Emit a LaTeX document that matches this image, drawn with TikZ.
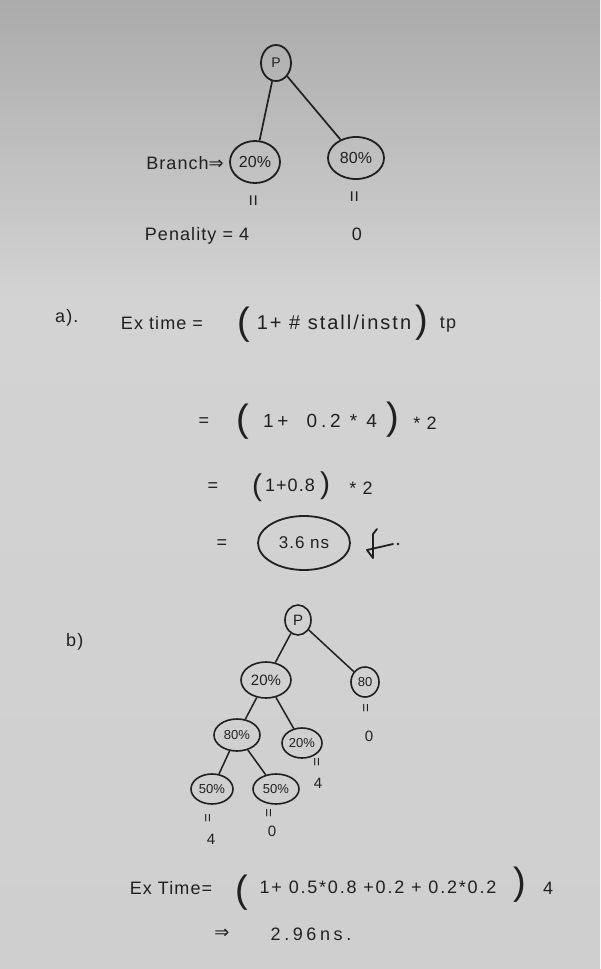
\documentclass[tikz,border=0pt]{standalone}
\usepackage{fontspec}
\setmainfont{Liberation Sans}
\newfontfamily\symbfont{DejaVu Sans}
\usetikzlibrary{shapes.geometric}
\definecolor{ink}{HTML}{202020}
\definecolor{papertop}{HTML}{ABABAB}
\definecolor{papermid}{HTML}{D3D3D3}
\definecolor{paperbot}{HTML}{CFCFCF}
\newcommand{\hfs}[2]{\fontsize{#1}{#1}\selectfont\addfontfeature{LetterSpace=#2}}
\tikzset{
  txt/.style={text=ink, inner sep=0pt, font=\hfs{18}{6}},
  small/.style={text=ink, inner sep=0pt, font=\hfs{15}{0}},
  bigparen/.style={text=ink, inner sep=0pt, font=\fontsize{38}{40}\selectfont},
  midparen/.style={text=ink, inner sep=0pt, font=\fontsize{30}{32}\selectfont},
  ell/.style={ellipse, draw=ink, line width=1.8pt, text=ink, inner sep=0pt, font=\hfs{16}{0}},
  ells/.style={ellipse, draw=ink, line width=1.6pt, text=ink, inner sep=0pt, font=\hfs{13}{0}},
  eqv/.style={text=ink, inner sep=0pt, rotate=90, font=\fontsize{20}{22}\selectfont},
  eqvs/.style={text=ink, inner sep=0pt, rotate=90, font=\fontsize{15}{17}\selectfont},
  edge/.style={draw=ink, line width=1.7pt},
}
\begin{document}
\begin{tikzpicture}[x=1pt,y=-1pt]
\useasboundingbox (0,0) rectangle (600,969);
\shade[top color=papertop, bottom color=papermid] (0,0) rectangle (600,300);
\shade[top color=papermid, bottom color=paperbot] (0,300) rectangle (600,969);

% ---------- top tree ----------
\node[ell, minimum width=30, minimum height=36, font=\hfs{14}{0}] (P1) at (276,63) {P};
\node[ell, minimum width=50, minimum height=42] (A1) at (255,162) {20\%};
\node[ell, minimum width=56, minimum height=42] (B1) at (356,158) {80\%};
\draw[edge] (P1) -- (A1);
\draw[edge] (P1) -- (B1);
\node[txt, anchor=east] (br) at (224,163) {Branch{\symbfont ⇒}};
\node[eqv] (e1) at (255,201) {=};
\node[eqv] (e2) at (356,197) {=};
\node[txt] (pen) at (197,236) {Penality = 4};
\node[txt] (z1) at (357,234) {0};

% ---------- part a ----------
\node[txt, anchor=west] (a) at (55,318) {a).};
\node[txt] (ex1) at (162,323) {Ex time =};
\node[bigparen] (lp1) at (244,325) {(};
\node[txt, font=\hfs{20}{10}] (f1) at (334,322) {1+ \# stall/instn};
\node[bigparen] (rp1) at (422,323) {)};
\node[txt] (tp) at (448,325) {tp};

\node[txt] (eq2) at (204,422) {=};
\node[bigparen] (lp2) at (243,422) {(};
\node[txt, font=\hfs{19}{20}] (f2) at (320,421) {1+\ \ 0.2 * 4};
\node[bigparen] (rp2) at (393,420) {)};
\node[txt] (f2b) at (425,423) {* 2};

\node[txt] (eq3) at (213,487) {=};
\node[midparen] (lp3) at (257,488) {(};
\node[txt] (f3) at (290,485) {1+0.8};
\node[midparen] (rp3) at (325,486) {)};
\node[txt] (f3b) at (361,488) {* 2};

\node[txt] (eq4) at (222,544) {=};
\node[ell, minimum width=92, minimum height=54, font=\hfs{17}{6}] (res) at (304,543) {3.6 ns};
\draw[draw=ink, line width=1.8pt, line join=round, line cap=round]
  (377,529) -- (373,534) -- (373,558) -- (367,550) -- (393,544);
\fill[ink] (398,544) circle (1.4);

% ---------- part b ----------
\node[txt, anchor=west] (b) at (66,642) {b)};

\node[ells, minimum width=26, minimum height=30, font=\hfs{15}{0}] (P2) at (298,620) {P};
\node[ells, minimum width=50, minimum height=36, font=\hfs{15}{0}] (n20) at (266,680) {20\%};
\node[ells, minimum width=28, minimum height=30] (n80) at (365,682) {80};
\node[ells, minimum width=46, minimum height=32] (n80b) at (237,735) {80\%};
\node[ells, minimum width=40, minimum height=30] (n20b) at (302,743) {20\%};
\node[ells, minimum width=42, minimum height=30] (n50a) at (212,789) {50\%};
\node[ells, minimum width=46, minimum height=30] (n50b) at (276,789) {50\%};
\draw[edge, line width=1.5pt] (P2) -- (n20);
\draw[edge, line width=1.5pt] (P2) -- (n80);
\draw[edge, line width=1.5pt] (n20) -- (n80b);
\draw[edge, line width=1.5pt] (n20) -- (n20b);
\draw[edge, line width=1.5pt] (n80b) -- (n50a);
\draw[edge, line width=1.5pt] (n80b) -- (n50b);

\node[eqvs] (e3) at (367,708) {=};
\node[small] (z2) at (369,736) {0};
\node[eqvs] (e4) at (318,762) {=};
\node[small] (f4) at (318,783) {4};
\node[eqvs] (e5) at (209,818) {=};
\node[small] (f5) at (211,839) {4};
\node[eqvs] (e6) at (270,813) {=};
\node[small] (z3) at (272,831) {0};

% ---------- bottom formula ----------
\node[txt] (ex2) at (171,888) {Ex Time=};
\node[bigparen] (lp4) at (242,893) {(};
\node[txt, font=\hfs{18}{10}] (f6) at (378,887) {1+\ 0.5*0.8 +0.2 + 0.2*0.2};
\node[bigparen] (rp4) at (520,885) {)};
\node[txt] (f6b) at (548,888) {4};
\node[txt] (imp) at (222,934) {{\symbfont ⇒}};
\node[txt, font=\hfs{18}{20}] (res2) at (311,934) {2.96ns.};
\end{tikzpicture}
\end{document}
